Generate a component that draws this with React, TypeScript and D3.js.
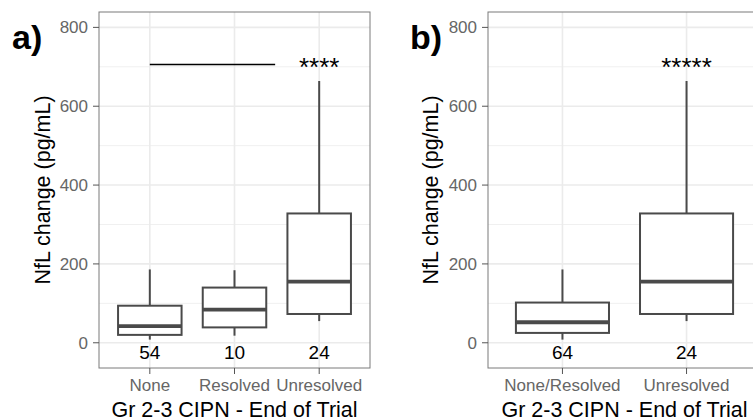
import React from "react";
import * as d3 from "d3";

const catsA = ["None", "Resolved", "Unresolved"];
const countsA = [54, 10, 24];
const lowA = [8, 18, 55];
const q1A = [20, 39, 73];
const medA = [42, 84, 155];
const q3A = [94, 140, 328];
const highA = [186, 184, 664];

const catsB = ["None/Resolved", "Unresolved"];
const countsB = [64, 24];
const lowB = [8, 55];
const q1B = [25, 73];
const medB = [52, 155];
const q3B = [102, 328];
const highB = [186, 664];

const yTicks = [0, 200, 400, 600, 800];
const yMinor = [100, 300, 500, 700];
const starsA = "****";
const starsB = "*****";
const sigLineY = 706;
const countY = -25;

const W = 753;
const H = 420;
const TOP = 12;
const BOTTOM = 368;
const FONT = "'Liberation Sans', Arial, Helvetica, sans-serif";

type PanelProps = {
  cats: string[];
  counts: number[];
  low: number[];
  q1: number[];
  med: number[];
  q3: number[];
  high: number[];
  left: number;
  right: number;
  letter: string;
  letterX: number;
  titleX: number;
  stars: string;
  sigLine: boolean;
};

function Panel(p: PanelProps) {
  const y = d3.scaleLinear().domain([-64, 839]).range([BOTTOM, TOP]);
  const x = d3.scalePoint<string>().domain(p.cats).range([p.left, p.right]).padding(0.6);
  const step = x.step();
  const bw = step * 0.75;
  const clipId = "clip-" + p.letter.replace(")", "");
  const cx = (p.left + p.right) / 2;
  const lastX = x(p.cats[p.cats.length - 1])!;
  return (
    <g>
      <defs>
        <clipPath id={clipId}>
          <rect x={p.left} y={TOP} width={p.right - p.left} height={BOTTOM - TOP} />
        </clipPath>
      </defs>
      <g clipPath={`url(#${clipId})`}>
        <rect x={p.left} y={TOP} width={p.right - p.left} height={BOTTOM - TOP} fill="#fff" />
        {yMinor.map((t) => (
          <line key={"mi" + t} x1={p.left} x2={p.right} y1={y(t)} y2={y(t)} stroke="#f0f0f0" strokeWidth={1} />
        ))}
        {yTicks.map((t) => (
          <line key={"ma" + t} x1={p.left} x2={p.right} y1={y(t)} y2={y(t)} stroke="#ebebeb" strokeWidth={1.6} />
        ))}
        {p.cats.map((c) => (
          <line key={"vx" + c} x1={x(c)} x2={x(c)} y1={TOP} y2={BOTTOM} stroke="#ebebeb" strokeWidth={1.6} />
        ))}
        {p.cats.map((c, i) => {
          const xc = x(c)!;
          return (
            <g key={"box" + c} stroke="#4a4a4a" fill="#fff">
              <line x1={xc} x2={xc} y1={y(p.high[i])} y2={y(p.q3[i])} strokeWidth={2} />
              <line x1={xc} x2={xc} y1={y(p.q1[i])} y2={y(p.low[i])} strokeWidth={2} />
              <rect x={xc - bw / 2} width={bw} y={y(p.q3[i])} height={y(p.q1[i]) - y(p.q3[i])} strokeWidth={2} />
              <line x1={xc - bw / 2} x2={xc + bw / 2} y1={y(p.med[i])} y2={y(p.med[i])} strokeWidth={3.8} />
            </g>
          );
        })}
        {p.cats.map((c, i) => (
          <text key={"cnt" + c} x={x(c)} y={y(countY)} dy="0.36em" textAnchor="middle" fontSize={19} fill="#000" fontFamily={FONT}>
            {p.counts[i]}
          </text>
        ))}
        {p.sigLine && (
          <line x1={x(p.cats[0])} x2={x(p.cats[1])! + step * 0.48} y1={y(sigLineY)} y2={y(sigLineY)} stroke="#000" strokeWidth={1.4} />
        )}
        <text x={lastX} y={y(sigLineY)} dy="0.46em" textAnchor="middle" fontSize={26} fill="#000" fontFamily={FONT}>
          {p.stars}
        </text>
      </g>
      <rect x={p.left} y={TOP} width={p.right - p.left} height={BOTTOM - TOP} fill="none" stroke="#7a7a7a" strokeWidth={1} />
      {yTicks.map((t) => (
        <g key={"yt" + t}>
          <line x1={p.left - 6} x2={p.left} y1={y(t)} y2={y(t)} stroke="#555" strokeWidth={1} />
          <text x={p.left - 11} y={y(t)} dy="0.36em" textAnchor="end" fontSize={17} fill="#666" fontFamily={FONT}>
            {t}
          </text>
        </g>
      ))}
      {p.cats.map((c) => (
        <g key={"xt" + c}>
          <line x1={x(c)} x2={x(c)} y1={BOTTOM} y2={BOTTOM + 6} stroke="#555" strokeWidth={1} />
          <text x={x(c)} y={390.5} textAnchor="middle" fontSize={17} fill="#666" fontFamily={FONT}>
            {c}
          </text>
        </g>
      ))}
      <text x={cx} y={416.5} textAnchor="middle" fontSize={21.5} fill="#000" fontFamily={FONT}>
        Gr 2-3 CIPN - End of Trial
      </text>
      <text
        transform={`translate(${p.titleX},${(TOP + BOTTOM) / 2}) rotate(-90)`}
        textAnchor="middle"
        fontSize={21.5}
        fill="#000"
        fontFamily={FONT}
      >
        NfL change (pg/mL)
      </text>
      <text x={p.letterX} y={49} fontSize={34} fontWeight="bold" fill="#000" fontFamily={FONT}>
        {p.letter}
      </text>
    </g>
  );
}

export default function App() {
  return (
    <svg width={W} height={H} style={{ position: "absolute", left: 0, top: 0, display: "block", background: "#fff" }}>
      <rect x={0} y={0} width={W} height={H} fill="#fff" />
      <Panel
        cats={catsA}
        counts={countsA}
        low={lowA}
        q1={q1A}
        med={medA}
        q3={q3A}
        high={highA}
        left={99}
        right={370}
        letter="a)"
        letterX={12}
        titleX={50}
        stars={starsA}
        sigLine={true}
      />
      <Panel
        cats={catsB}
        counts={countsB}
        low={lowB}
        q1={q1B}
        med={medB}
        q3={q3B}
        high={highB}
        left={488}
        right={761}
        letter="b)"
        letterX={410}
        titleX={438}
        stars={starsB}
        sigLine={false}
      />
    </svg>
  );
}
